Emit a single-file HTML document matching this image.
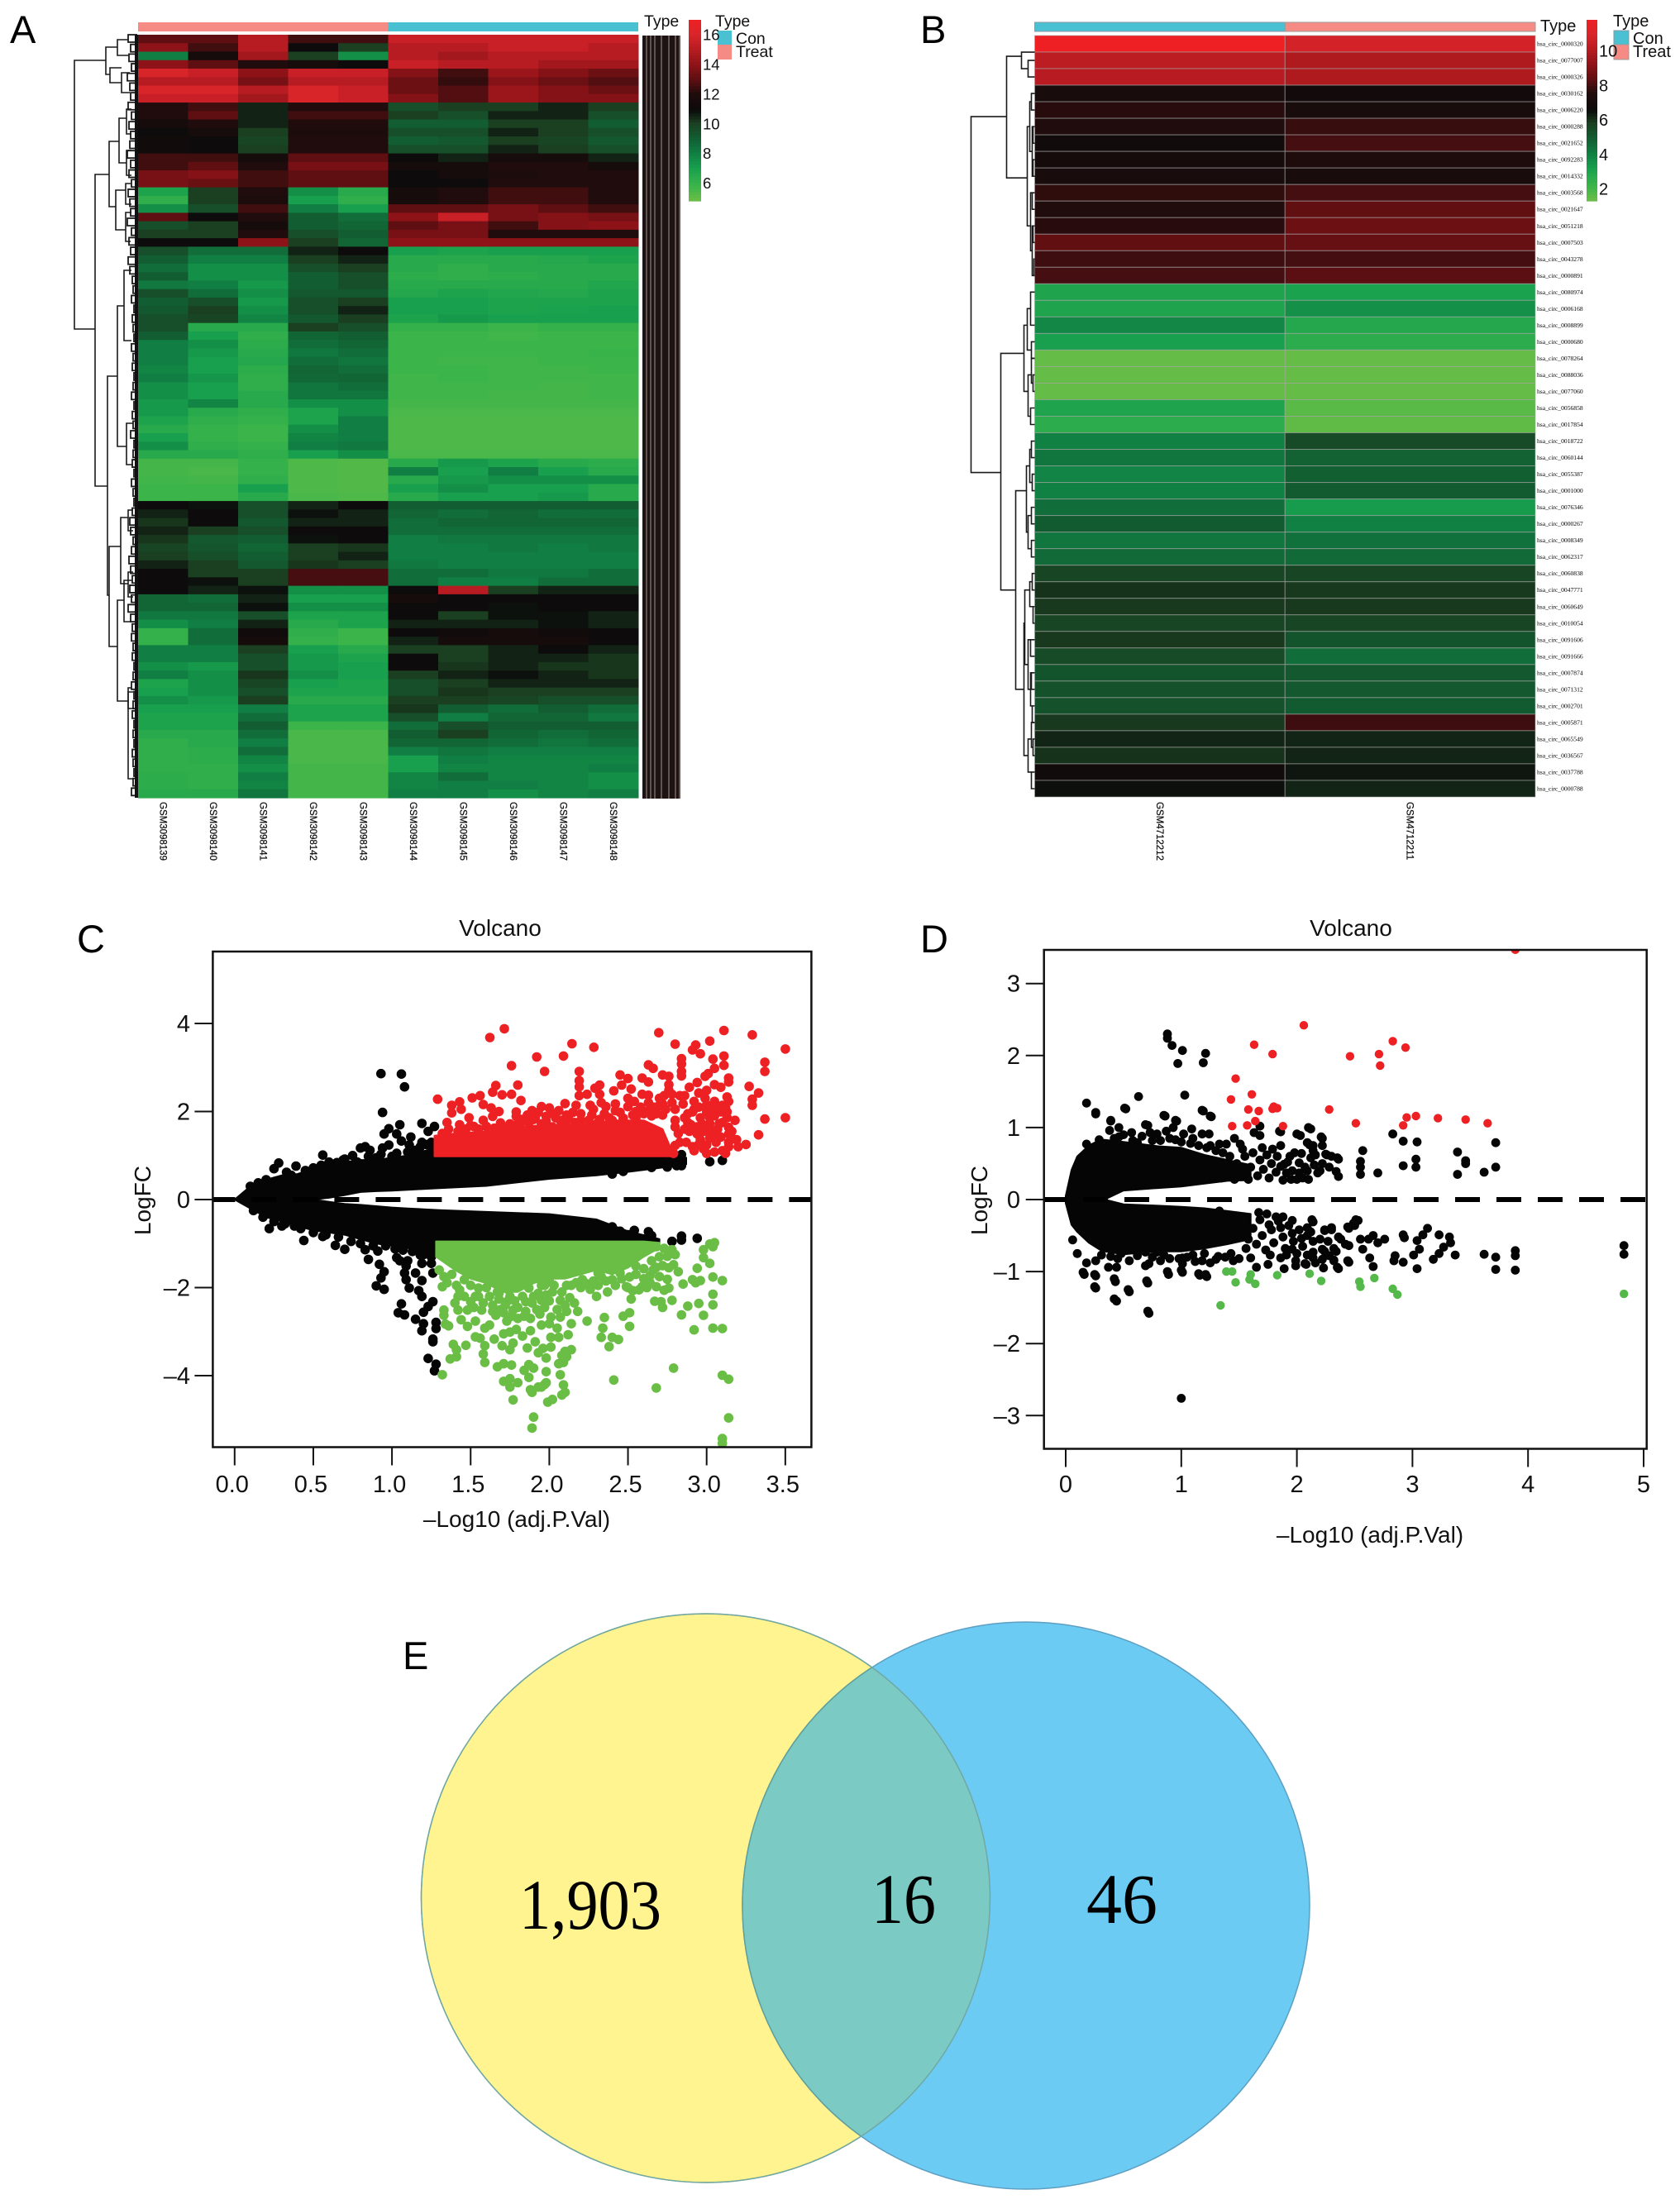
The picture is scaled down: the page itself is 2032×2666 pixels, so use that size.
<!DOCTYPE html>
<html lang="en">
<head>
<meta charset="utf-8">
<title>Differential circRNA expression figure</title>
<style>
html,body{margin:0;padding:0;background:#fff;}
svg{display:block;}
text{font-family:"Liberation Sans",Arial,sans-serif;fill:#111;}
.letter{font-size:47px;fill:#000;}
.small{font-size:19.5px;}
.axis{font-size:28px;}
.tick{font-size:29px;}
.serif{font-family:"Liberation Serif","Times New Roman",serif;fill:#000;}
</style>
</head>
<body>
<svg id="fig" xmlns="http://www.w3.org/2000/svg" width="2032" height="2666" viewBox="0 0 2032 2666">
<rect x="0" y="0" width="2032" height="2666" fill="#fff"/>
<defs>
<clipPath id="clipC"><rect x="257.4" y="1151" width="724" height="599.5"/></clipPath>
<clipPath id="clipD"><rect x="1262.7" y="1149" width="729" height="603.5"/></clipPath>
<clipPath id="clipLens"><ellipse cx="853.5" cy="2296" rx="344" ry="344"/></clipPath>
</defs>

<text class="letter" x="12" y="52">A</text>
<text class="letter" x="1113" y="52">B</text>
<text class="letter" x="93" y="1152">C</text>
<text class="letter" x="1113" y="1152">D</text>
<text class="letter" x="487" y="2019">E</text>

<g id="panelA">
<rect x="167" y="27" width="302.5" height="11" fill="#f68a84"/>
<rect x="469.5" y="27" width="302.5" height="11" fill="#4ac0d3"/>
<text class="small" x="779" y="32">Type</text>
<text class="small" x="865" y="32">Type</text>
<rect x="868" y="37" width="17" height="17" fill="#4ac0d3"/>
<rect x="868" y="54" width="17" height="18" fill="#f68a84"/>
<text class="small" x="890" y="53">Con</text>
<text class="small" x="890" y="69">Treat</text>
</g>

<g id="panelB">
<rect x="1251.5" y="27" width="303" height="11" fill="#4ac0d3" stroke="#8a9aa0" stroke-width="1"/>
<rect x="1554.5" y="27" width="302.5" height="11" fill="#f68a84" stroke="#a09a98" stroke-width="1"/>
<text x="1863" y="38" font-size="20">Type</text>
<text x="1951" y="32" font-size="20">Type</text>
<rect x="1952" y="37" width="18" height="17" fill="#4ac0d3" stroke="#8a9aa0"/>
<rect x="1952" y="54" width="18" height="18" fill="#f68a84" stroke="#a09a98"/>
<text x="1975" y="53" font-size="20">Con</text>
<text x="1975" y="69" font-size="20">Treat</text>
</g>

<g id="panelC">
<text class="axis" x="605" y="1132" text-anchor="middle">Volcano</text>
<text class="axis" x="625" y="1847" text-anchor="middle">–Log10 (adj.P.Val)</text>
<text class="axis" transform="translate(182,1452) rotate(-90)" text-anchor="middle">LogFC</text>
</g>

<g id="panelD">
<text class="axis" x="1634" y="1132" text-anchor="middle">Volcano</text>
<text class="axis" x="1657" y="1866" text-anchor="middle">–Log10 (adj.P.Val)</text>
<text class="axis" transform="translate(1194,1452) rotate(-90)" text-anchor="middle">LogFC</text>
</g>

<g id="panelE">
<ellipse cx="853.5" cy="2296" rx="344" ry="344" fill="#fff48f" stroke="#b9b27c" stroke-width="1.5"/>
<ellipse cx="1241" cy="2305" rx="343" ry="343" fill="#6ccbf3" stroke="#5c9fc2" stroke-width="1.5"/>
<ellipse cx="1241" cy="2305" rx="343" ry="343" fill="#7bcbc4" stroke="#5f9f9c" stroke-width="1.5" clip-path="url(#clipLens)"/>
<ellipse cx="853.5" cy="2296" rx="344" ry="344" fill="none" stroke="#6fa8a4" stroke-width="1.5"/>
<text class="serif" x="628" y="2333" font-size="86" textLength="172" lengthAdjust="spacingAndGlyphs">1,903</text>
<text class="serif" x="1054" y="2326" font-size="86" textLength="78" lengthAdjust="spacingAndGlyphs">16</text>
<text class="serif" x="1314" y="2326" font-size="86" textLength="86" lengthAdjust="spacingAndGlyphs">46</text>
</g>
</svg>

<script>
/* ---------- Panel A heatmap data ---------- */
const samplesA = ["GSM3098139","GSM3098140","GSM3098141","GSM3098142","GSM3098143","GSM3098144","GSM3098145","GSM3098146","GSM3098147","GSM3098148"];
const valuesA = [
[13,13,15,12.5,12.5,15.5,15.5,15.5,15.5,15.5],
[14,12.5,15,11,10,15,15,15.5,15.5,15],
[8,11.5,14.5,10,7.5,15,14.5,15,15,15],
[14,13,12,11.5,11,15.5,15,15,14.5,14.5],
[16,15.5,14,15.5,15.5,13.8,12.5,14.3,13.8,13.3],
[15,15,13.5,15,15,13.3,12.3,13.8,13.3,12.8],
[16,16,15,16,15.5,13.3,12.8,14.3,13.8,13.3],
[15.5,15.5,14.5,16,15.5,13.8,12.8,14.3,13.8,13.8],
[12,12.5,10.5,12,12,9.5,10,10,10.5,10],
[12,13,10.5,12.5,12.5,10,9.5,10.5,10.5,9.5],
[11.5,12,10.5,12,12,9,9,10,10,9],
[11,11.5,10,11.8,11.8,9.5,9.5,10.5,10,9.5],
[11.2,11,9.8,12,12,9,9.2,10,9.8,9.2],
[11.2,11,10,12,12,9.5,9.5,10.5,10,9.5],
[12.5,12.5,11.5,13,13,11,10.5,11.5,11.5,10.5],
[12.5,13,12,13.5,13.5,11.5,11.5,12,12,11.5],
[13.5,13.8,12.5,13,13,11,11.5,11.8,12,12],
[13.5,13.2,12.5,13,13,11,11,12,12,12],
[6.8,10,12,7.5,6.5,11.5,12,12.5,12.5,12],
[6.2,10,11.8,7,6.2,11.5,12,12.5,12.5,12],
[7.5,9.5,12.5,8,7,13,13,13.5,13,12.5],
[13,11,12,9,8.5,14,15.5,13.5,13.8,13.5],
[9.5,10,11.5,9,8.8,13,13.5,12.5,13.8,14],
[10,10,12,9.5,9,13.5,13.5,12,12,12],
[11,11,14,10,8.8,14,14,14,14,14],
[9.5,8.5,8.5,10.5,11,7,6.8,7,7,7],
[9,8,8,10,10.5,6.5,6.5,6.5,6.6,6.8],
[8.5,7.5,7.5,9.5,10,6.5,6.2,6.5,6.5,6.5],
[9,7.5,7.5,9,9.5,6.3,6.2,6.3,6.5,6.5],
[8.2,8,7.2,9,9.5,6.5,6.5,6.5,6.5,6.7],
[9.5,8.5,7.5,9.2,9.2,6.6,6.8,6.7,6.6,6.8],
[9,9.5,7.2,9.5,10,7,7,6.8,6.8,6.8],
[9.2,10,7.5,9.5,10.5,7,7,6.8,6.9,7],
[9.5,9.8,7.8,9.2,10,6.8,7.2,7,7,7],
[9.5,6.5,6.5,10,9.5,6,6,5.8,6,6],
[9,7,6.2,8.8,9,5.8,5.8,5.7,5.8,5.8],
[8,7.5,6.3,8.5,8.8,5.8,5.8,5.8,5.8,5.8],
[8,7.2,6.5,8.2,8.5,5.8,5.8,5.8,5.8,5.9],
[8,7,6.6,8.5,8.3,5.8,5.7,5.7,5.8,5.8],
[7.8,7,6.3,8.8,8.5,5.8,5.8,5.7,5.7,5.8],
[8,7.3,6.2,8.7,8.8,5.7,5.8,5.7,5.7,5.7],
[7.5,7,6.2,8.3,8.5,5.7,5.7,5.7,5.6,5.7],
[7.5,7,6.5,8.3,8.3,5.7,5.7,5.6,5.6,5.7],
[7.2,7.8,6.5,7.5,7.5,5.6,5.6,5.6,5.6,5.6],
[7.2,6.5,6.2,6.8,7.5,5.5,5.5,5.5,5.5,5.5],
[6.8,6.2,6,6.8,8,5.4,5.4,5.4,5.4,5.4],
[6.5,6,5.8,7.5,8,5.4,5.4,5.4,5.4,5.4],
[7,6,5.8,7.8,8,5.4,5.4,5.4,5.4,5.4],
[7.5,6.2,6,8,8.2,5.4,5.4,5.4,5.4,5.4],
[6.5,6.5,6.2,7,7.5,5.5,5.5,5.5,5.5,5.5],
[5.6,5.6,6,5.4,5.3,6.5,7.2,6.8,6.5,6.3],
[5.6,5.5,6,5.4,5.3,8,7,8,7,6.5],
[5.7,5.6,6.2,5.4,5.3,6.5,7.2,7.5,7.5,7.5],
[5.8,5.8,7,5.4,5.3,7,7.5,7,7,6.5],
[5.8,5.8,6.5,5.5,5.4,6.5,7,7,7.2,6.5],
[11,10.8,9.5,10.5,11,9,9,9,9,9],
[10.5,11,9.5,10.8,10.5,8.8,8.5,8.8,8.5,8.5],
[10.2,11,9.2,10.5,10.5,8.5,8.8,8.8,8.8,8.8],
[10.5,10,9.5,11,11,8.5,8.5,8.5,8.5,8.5],
[10.2,9.2,9,10.8,11,8,8.2,8.2,8.2,8.2],
[9.8,9.3,8.8,10,10.2,8,8,8.2,8,8.2],
[10,9.5,9,10,10.5,8,8,8,8,8],
[10.5,10,9.2,10.2,10,8.2,8,8,8,8],
[11,10,10,12.6,12.6,8.5,8.5,8.2,8.2,8.5],
[11,10.8,10,12.6,12.6,8.5,8,8,8.5,8.5],
[11,10.5,10.8,7.5,7.5,11,15,10,10.5,10.5],
[8.8,8.5,10.5,7,7,11.5,11,11,11,11],
[8.8,8.8,10.8,7.5,7.5,11,11,10.8,11,11],
[8.2,8.2,9.5,6.8,6.8,11,10,10.8,10.8,10.5],
[7.5,8,10.5,6.5,6.8,10.5,10.5,10.5,10.8,10.5],
[6,8.5,11.2,6.2,5.8,11,11.2,11.5,11.2,11],
[6,8.5,11.5,6,5.8,10.5,11.5,11.5,11.5,11],
[8,8,10,7,6.5,10,10,10.5,11,10.5],
[8,8,9.5,7.2,6.8,11,10,10.5,10.5,10.2],
[7.5,7.2,9.5,7.2,7,11,10.2,10.5,10.2,10.2],
[8,7.5,10.2,7.5,7,10,10.5,10.8,10.5,10.2],
[6.8,7.5,9.8,7,6.8,9.5,10,10.5,10.5,10.5],
[7,7.5,9.5,6.8,6.8,9.5,10.2,10,10,10],
[7.5,7.2,10,6.5,6.5,10,10,9.8,9.5,9.5],
[7,7,8,6.8,6.8,10.2,9,8.5,9,8.5],
[6.8,6.8,8.5,6.8,6.8,9.5,8,8.8,8.8,8.2],
[6.8,6.8,9,5.8,5.8,8.5,9.5,9,9,9],
[6.5,6.5,8.5,5.5,5.5,9,10,8.8,8.5,8.8],
[6.2,6.5,8,5.5,5.5,8.8,8.8,8.5,8.3,8.5],
[6.2,6.3,8.5,5.5,5.5,8,8.3,8,8,8],
[6.2,6.3,7.8,5.5,5.5,7,8,7.8,7.8,7.8],
[6.2,6.2,7.5,5.6,5.6,7,7.8,7.8,7.8,8],
[6.3,6.2,8,5.6,5.6,7.8,8.5,7.8,7.8,7.5],
[6.3,6.2,7.8,5.6,5.6,7.8,8,8,7.8,7.5],
[6.5,6.5,8.3,5.6,5.6,8,8,7.5,7.8,8]
];
const barTicksA = [16,14,12,10,8,6];
/* dendrogram A: [height, leafTop, leafBottom, childHeightTop, childHeightBottom] */
const dendroA = [
[77,31,356,39,52],[39,15,48,25,34],[25,6,25,12,12],[34,40,58,20,20],[20,46,70,10,10],
[52,169,546,35,37],[35,129,208,23,27],[23,101,155,14,14],[27,188,236,15,15],
[37,413,678,25,35],[25,328,498,17,14],[17,285,370,8,8],[35,619,740,21,25],
[21,584,664,12,12],[25,684,806,17,12],[12,790,900,8,6],[17,660,710,8,8],
[14,90,120,8,8],[14,140,170,8,8],[15,180,205,9,8],[15,215,250,8,9],[14,470,520,6,6],[12,575,600,6,6],[12,650,680,6,6],[12,795,815,6,6]
];
const teethA = [12,9,11,8,13,10,9,12,8,11,9,10,13,9,11,8,12,10,9,13,8,11,9,12,10,7,6,8,5,7,6,5,8,6,7,5,6,8,5,7,6,9,5,6,7,5,8,6,5,7,10,9,6,8,11,9,7,10,8,12,9,7,8,6,7,5,6,8,5,6,7,5,6,5,7,6,5,6,8];
const stripesA = [782,787,792,800,809,817,822];

/* ---------- Panel B heatmap data ---------- */
const samplesB = ["GSM4712212","GSM4712211"];
const rowLabelsB = ["hsa_circ_0000320","hsa_circ_0077007","hsa_circ_0000326","hsa_circ_0030162","hsa_circ_0006220","hsa_circ_0000288","hsa_circ_0021652","hsa_circ_0092283","hsa_circ_0014332","hsa_circ_0003568","hsa_circ_0021647","hsa_circ_0051218","hsa_circ_0007503","hsa_circ_0043278","hsa_circ_0000891","hsa_circ_0080974","hsa_circ_0006168","hsa_circ_0008899","hsa_circ_0000680","hsa_circ_0078264","hsa_circ_0088036","hsa_circ_0077060","hsa_circ_0056858","hsa_circ_0017854","hsa_circ_0018722","hsa_circ_0060144","hsa_circ_0055387","hsa_circ_0001000","hsa_circ_0076346","hsa_circ_0000267","hsa_circ_0008349","hsa_circ_0062317","hsa_circ_0060838","hsa_circ_0047771","hsa_circ_0060649","hsa_circ_0010054","hsa_circ_0091606","hsa_circ_0091666","hsa_circ_0007874","hsa_circ_0071312","hsa_circ_0002701","hsa_circ_0005871","hsa_circ_0065549","hsa_circ_0036567","hsa_circ_0037788","hsa_circ_0000788"];
const valuesBcon = [11.8,10.2,10.1,7.2,7.6,7.5,6.8,7,7.2,7.7,7.5,7.6,8.4,7.9,8,3,3,3.8,3.2,1.4,1.4,1.4,3,2.6,4,4.3,3.9,4,4.5,5,4.3,4.6,5.6,6,5.9,5.6,5.9,5.5,5.2,5.3,5.3,5.9,6.2,6,6.8,6.5];
const valuesBtreat = [10.8,9.9,9.9,6.9,7.2,7.8,8,7.4,7.2,8,8.4,8.6,8.5,8,8.3,3.1,3.6,2.8,2.6,1.4,1.4,1.4,1.6,1.5,5.5,4.8,4.9,5,3.3,4,4.4,4.6,5.6,5.9,5.9,5.6,5.2,4.5,5.1,5.1,5,7.9,6.2,6.2,6.4,6.2];
const barTicksB = [10,8,6,4,2];
const dendroB = [
[77,4.4,25.9,34,41],[34,.75,8.1,16,9],[16,.5,1.5,0,8],[8,1,2,0,0],[9,5,11,6,5],[6,3.5,6.5,4,3],[4,3,4,0,0],[3,5,8,2,2],[2,5,6,0,0],[2,7,8,0,0],
[5,9,12.5,3,3],[3,9,10,0,0],[3,11,14,2,1],[2,11,12,0,0],[1,13,14,0,0],
[41,18.7,33,13,23],[13,17,21,9,8],[9,16,18.5,5,4],[5,15,17,0,0],[4,18,19,0,0],[8,20,22.5,4,5],[4,19,20.5,0,2],[2,20,21,0,0],[5,22,23,0,0],
[23,27,39,10,13],[10,25.5,29.5,6,8],[6,24.5,26.5,4,3],[4,24,25,0,0],[3,26,27,0,0],[8,28.5,30.5,4,4],[4,28,29,0,0],[4,30,31,0,0],
[13,35,43,12,8],[12,33,37.5,6,8],[6,32.5,34,3,2],[3,32,33,0,0],[2,34,35,0,0],[8,36,39,5,5],[5,36,37,0,0],[5,38,40,4,3],[4,38,39,0,0],[3,40,41,0,0],[8,42,44,4,4],[4,41,42.5,0,2],[2,42,43,0,0],[4,44,45,0,0]
];

/* ---------- Panel C volcano data ---------- */
const xTicksC = ["0.0","0.5","1.0","1.5","2.0","2.5","3.0","3.5"];
const yTicksC = [4,2,0,-2,-4];
const cUpperX = [0,.1,.2,.3,.4,.5,.6,.7,.8,.9,1,1.1,1.2,1.3,1.6,2,2.3,2.5,2.7,2.87];
const cUpperTop = [0,.3,.45,.55,.58,.7,.8,.85,.9,.9,.95,1,1.1,1.2,1,1,1,1,1,.95];
const cUpperBottom = [0,0,0,0,0,0,.04,.1,.17,.19,.2,.22,.24,.26,.31,.47,.55,.63,.72,.8];
const cLowerX = [0,.1,.2,.3,.4,.5,.6,.7,.8,.9,1,1.1,1.2,1.3,1.6,2,2.3,2.5,2.7];
const cLowerTop = [0,0,0,0,0,0,-.05,-.1,-.12,-.15,-.18,-.2,-.22,-.24,-.28,-.33,-.45,-.72,-.9];
const cLowerBottom = [0,-.2,-.4,-.5,-.6,-.7,-.75,-.8,-.9,-1,-1.05,-1.1,-1.2,-1.3,-1,-1,-1,-1,-1];
const cRedCoreX = [1.27,1.4,1.6,1.8,2,2.2,2.4,2.6,2.72,2.78];
const cRedCoreTop = [1.45,1.5,1.55,1.65,1.7,1.7,1.8,1.8,1.6,1.1];
const cRedCoreBottom = [.98,.98,.98,.98,.98,.98,.98,.98,.98,.98];
const cGreenCoreX = [1.28,1.4,1.5,1.6,1.7,1.8,1.9,2,2.1,2.2,2.3,2.4,2.5,2.6,2.7];
const cGreenCoreTop = [-.95,-.95,-.95,-.95,-.95,-.95,-.95,-.95,-.95,-.95,-.95,-.95,-.95,-.95,-.98];
const cGreenCoreBottom = [-1.3,-1.6,-1.8,-1.9,-2.1,-2.1,-1.9,-1.8,-1.8,-1.7,-1.6,-1.7,-1.55,-1.3,-1.1];
const cBlackPoints = [[.93,2.86],[1.06,2.85],[1.08,2.56],[.94,1.98],[1.05,1.7],[.98,1.61],[.95,1.49],[1.19,1.73],[1.23,1.55],[1.27,1.66],[1.03,1.49],[1.06,1.33],[1.12,1.42],[1.11,1.24],[.83,1.2],[.94,1.17],[.98,1.24],[1.19,1.3],[1.25,1.3],[2.84,1.02],[2.84,.77],[2.81,.77],[3.02,.86],[3.1,.89],[2.65,.73],[2.75,.74],[2.4,.58],[2.47,.64],[.28,.83],[.39,.76],[.56,1.01],[.25,.7],[.65,.84],[.69,.9],[.8,1.17],[.86,1.12],[.93,1.03],
[.22,-.66],[.3,-.6],[.44,-.93],[.38,-.6],[.56,-.84],[.64,-1.04],[.7,-1.13],[.85,-1.36],[.91,-1.17],[.92,-1.47],[.95,-1.64],[.93,-1.78],[.9,-1.96],[.95,-2.04],[.83,-1.14],[1.03,-1.32],[1.1,-1.39],[1.09,-1.51],[1.05,-1.39],[1.08,-1.67],[1.15,-1.67],[1.09,-1.82],[1.11,-2.01],[1.19,-1.84],[1.17,-2.07],[1.19,-2.2],[1.26,-1.67],[1.19,-1.45],[1.18,-1.26],[1.25,-1.45],[1.06,-2.37],[1.04,-2.57],[1.08,-2.62],[1.15,-2.72],[1.26,-2.32],[1.23,-2.43],[1.2,-2.56],[1.2,-2.82],[1.19,-2.98],[1.28,-2.79],[1.28,-2.93],[1.26,-3.17],[1.26,-3.23],[1.23,-3.61],[1.28,-3.74],[1.27,-3.89],[2.94,-.88],[2.84,-.83],[2.84,-.92],[2.78,-.95],[2.54,-.7],[2.63,-.73],[2.65,-.82],
[.1,.3],[.15,.38],[.2,.45],[.33,.62],[.36,.55],[.45,.66],[.5,.72],[.55,.78],[.6,.85],[.63,.75],[.7,.92],[.75,1],[.78,.85],[.85,.98],[.9,.95],[1,.98],[1.03,1.05],[1.1,1.08],[1.15,1.12],[1.18,1.2],[1.22,1.25],[1.26,1.18],[1.3,1.28],
[.12,-.25],[.18,-.4],[.25,-.5],[.32,-.55],[.42,-.66],[.5,-.75],[.58,-.8],[.66,-.85],[.74,-.95],[.8,-1],[.88,-1.05],[.96,-1.05],[1.02,-1.12],[1.07,-1.15],[1.13,-1.18],[1.2,-1.25],[1.25,-1.3],[2.4,-.62],[2.45,-.72],[2.5,-.8],[2.55,-.88],[2.6,-.9]];
const cRedPoints = [[1.714,3.88],[1.622,3.68],[2.144,3.54],[2.283,3.46],[2.696,3.79],[3.11,3.84],[3.29,3.74],[3.5,3.42],[2.8,3.53],[2.93,3.51],[2.91,3.4],[2.96,3.31],[3.02,3.6],[1.92,3.24],[2.09,3.26],[1.76,3.04],[1.97,2.91],[2.19,2.91],[2.63,3.06],[2.66,2.98],[2.84,3.2],[2.84,3.08],[2.84,2.91],[2.84,2.81],[3.04,3.19],[3.11,3.26],[3.11,3.05],[3.05,2.98],[3.01,2.86],[2.99,2.8],[3.37,3.12],[3.37,2.91],[3.14,2.76],[3.14,2.67],[3.27,2.57],[3.33,2.42],[3.29,2.28],[3.29,2.14],[3.37,1.83],[3.5,1.86],[3.33,1.47],[3.25,1.25],[1.29,2.28],[1.38,2.14],[1.38,1.97],[1.43,2.22],[1.44,2.05],[1.51,2.31],[1.56,2.36],[1.58,2.16],[1.66,2.59],[1.64,2.44],[1.7,2.38],[1.76,2.39],[1.8,2.6],[1.82,2.25],[1.63,2.08],[1.68,2],[1.64,1.89],[1.49,1.86],[1.35,1.75],[1.43,1.7],[1.52,1.66],[1.58,1.8],[1.69,1.74],[1.79,1.99],[1.79,1.89],[1.86,1.92],[1.89,2.02],[1.95,2.11],[2,2.08],[2.06,2.02],[1.91,1.86],[1.98,1.89],[2.04,1.86],[2.1,2.18],[2.17,2.14],[2.15,1.98],[2.11,1.92],[2.19,2.7],[2.19,2.56],[2.19,2.36],[2.24,2.39],[2.29,2.53],[2.32,2.6],[2.32,2.39],[2.41,2.47],[2.45,2.83],[2.5,2.75],[2.46,2.6],[2.52,2.51],[2.59,2.76],[2.63,2.67],[2.59,2.39],[2.63,2.37],[2.72,2.83],[2.76,2.8],[2.76,2.61],[2.76,2.48],[2.73,2.36],[2.78,2.39],[2.83,2.36],[2.86,2.36],[2.89,2.55],[2.94,2.66],[2.95,2.42],[3,2.48],[3.05,2.61],[3.09,2.55],[3.13,2.33],[3.14,2.23],[2.92,2.23],[2.99,2.3],[3.05,2.23],[3.1,2.14],[3.13,1.99],[3.13,1.86],[3.07,2.05],[3,1.99],[2.96,1.86],[2.91,1.99],[3.02,1.86],[3.09,1.99],[3.14,1.64],[3.14,1.49],[2.99,1.64],[2.94,1.49],[2.89,1.55],[3.03,1.55],[3.09,1.42],[2.96,1.36],[2.91,1.2],[3,1.24],[3.14,1.2],[3.19,1.36],[3.1,1.11],[3.05,1.08],[2.92,1.11],[2.83,1.3],[2.79,1.05],[2.8,1.23],[3.16,1.39],[3.14,1.3],[2.72,2.17],[2.8,2.05],[2.85,2.17],[2.72,1.92],[2.8,1.8],[2.86,1.86],[2.69,2.11],[2.63,2.2],[2.54,2.23],[2.5,2.11],[2.53,1.92],[2.42,2.17],[2.36,2.11],[2.33,2.2],[2.26,2.14],[2.27,1.92],[2.38,1.86],[1.75,1.72],[1.82,1.75],[1.95,1.72],[2.02,1.65],[2.1,1.75],[2.2,1.8],[2.3,1.72],[2.45,1.98],[2.55,2],[2.6,1.95],[2.65,1.9],[2.95,2.1],[3.03,2.05],[3.08,1.72],[2.97,1.72],[2.88,1.75],[3.06,1.3],[2.98,1.15],[2.87,1.3],[3.02,1.72],
[1.32,1.5],[1.36,1.6],[1.42,1.55],[1.47,1.6],[1.5,1.68],[1.55,1.6],[1.6,1.66],[1.65,1.62],[1.7,1.66],[1.78,1.68],[1.82,1.82],[1.87,1.75],[1.9,1.82],[1.93,1.98],[1.98,1.78],[2.03,1.95],[2.07,1.8],[2.12,1.85],[2.16,1.75],[2.2,1.95],[2.25,1.8],[2.28,2.05],[2.32,1.82],[2.35,1.95],[2.4,1.8],[2.42,2.02],[2.47,1.85],[2.5,2.3],[2.55,1.85],[2.58,2.1],[2.62,2],[2.66,2.1],[2.68,1.95],[2.7,2.3],[2.74,2.05],[2.78,2.2],[2.8,1.65],[2.82,1.5],[2.86,1.6],[2.88,1.95],[2.9,1.7],[2.92,2.05],[2.94,1.65],[2.98,1.55],[3,2.15],[3.02,1.4],[3.05,1.9],[3.07,1.6],[3.1,1.75],[3.12,2.1],[3.16,1.55],[3.18,1.8],[2.95,1.25],[3,1.05],[3.06,1.45],[3.12,1.05],[3.2,1.2]];
const cGreenPoints = [[1.89,-5.19],[1.9,-4.94],[3.14,-4.96],[3.1,-5.43],[3.1,-5.54],[3.1,-3.99],[3.14,-4.08],[2.79,-3.83],[2.68,-4.28],[2.41,-4.1],[1.32,-3.98],[1.37,-3.62],[1.41,-3.57],[1.41,-3.41],[1.39,-3.29],[1.47,-3.31],[1.59,-3.7],[1.58,-3.51],[1.59,-3.32],[1.53,-3.12],[1.56,-3.15],[1.67,-3.8],[1.71,-3.73],[1.76,-3.76],[1.71,-4.13],[1.75,-4.07],[1.75,-4.26],[1.8,-4.16],[1.77,-4.55],[1.88,-4.32],[1.89,-4.38],[1.93,-4.26],[1.97,-4.2],[1.98,-4.16],[1.95,-4.26],[1.99,-4.6],[2.02,-4.54],[2.08,-4.44],[2.1,-4.38],[2.09,-4.21],[2.07,-3.98],[1.98,-3.91],[1.87,-4.04],[1.84,-3.88],[1.87,-3.75],[1.9,-3.83],[2.06,-3.73],[2.09,-3.7],[2.11,-3.57],[2.14,-3.41],[2.1,-3.45],[2.08,-3.54],[1.98,-3.6],[1.93,-3.48],[1.96,-3.38],[2.01,-3.35],[1.91,-3.23],[1.86,-3.37],[1.75,-3.41],[1.7,-3.32],[1.65,-3.17],[1.77,-3.26],[2.12,-3.07],[2.01,-3.13],[2.06,-3.13],[2.05,-2.92],[1.95,-2.85],[2,-2.82],[1.79,-2.95],[1.88,-2.98],[1.83,-3.1],[1.75,-3.01],[1.71,-3.05],[1.62,-2.85],[1.59,-2.92],[1.48,-2.88],[1.44,-2.73],[1.33,-2.51],[1.33,-2.63],[1.34,-2.83],[1.36,-2.87],[1.53,-2.76],[1.66,-2.63],[1.73,-2.76],[1.8,-2.7],[1.88,-2.7],[1.94,-2.6],[2.01,-2.67],[2.07,-2.67],[2.11,-2.54],[2.18,-2.54],[2.14,-2.82],[2.24,-2.76],[1.42,-2.51],[1.48,-2.51],[1.57,-2.51],[1.64,-2.54],[1.71,-2.57],[1.77,-2.51],[1.85,-2.54],[1.4,-2.35],[1.32,-1.98],[1.35,-1.89],[1.42,-2.2],[1.53,-2.2],[1.5,-2.32],[1.55,-2.01],[1.46,-1.82],[1.41,-1.95],[1.68,-2.13],[1.68,-2.26],[1.73,-2.32],[1.75,-2.2],[1.71,-2.01],[1.66,-1.89],[1.85,-2.32],[1.89,-2.35],[1.95,-2.29],[1.93,-2.13],[1.87,-2.01],[1.98,-2.17],[2.02,-2.1],[1.97,-1.95],[1.89,-1.76],[2.07,-2.29],[2.13,-2.23],[2.16,-2.35],[2.11,-1.95],[2.17,-1.89],[2.21,-1.82],[2.26,-2.04],[2.31,-1.95],[2.3,-2.2],[2.37,-2.1],[2.35,-2.68],[2.34,-2.92],[2.33,-3.13],[2.4,-3.13],[2.44,-3.18],[2.38,-3.34],[2.47,-2.65],[2.51,-2.57],[2.51,-2.88],[2.52,-2.26],[2.49,-1.98],[2.53,-2.07],[2.59,-1.98],[2.64,-1.89],[2.68,-1.98],[2.73,-2.06],[2.76,-2.01],[2.75,-1.81],[2.67,-2.31],[2.71,-2.32],[2.78,-2.29],[2.72,-2.45],[2.84,-2.62],[2.88,-2.42],[2.95,-2.36],[2.98,-2.63],[2.92,-2.96],[3.04,-2.39],[3.04,-2.15],[3.04,-2.92],[3.1,-2.93],[2.85,-1.92],[2.91,-1.82],[2.93,-1.89],[2.96,-1.84],[3.04,-1.76],[3.1,-1.84],[2.94,-1.56],[3.02,-1.45],[2.98,-1.32],[2.98,-1.14],[3.04,-1.07],[3.02,-1.01],[3.05,-.98],[2.79,-1.48],[2.82,-1.64],[2.78,-1.14],[2.75,-1.29],[2.73,-1.11],[2.68,-1.07],[2.65,-1.39],[2.68,-1.54],[2.6,-1.57],[2.55,-1.51],[2.64,-1.73],[2.51,-1.76],[2.26,-1.45],[2.31,-1.67],[2.4,-1.82],[2.45,-1.67],
[1.3,-1.6],[1.33,-1.75],[1.38,-1.7],[1.43,-2.05],[1.46,-2.2],[1.5,-1.95],[1.52,-2.45],[1.55,-2.2],[1.58,-2.35],[1.6,-2],[1.62,-2.2],[1.64,-2.4],[1.67,-2.1],[1.69,-2.5],[1.72,-2.4],[1.74,-2.05],[1.76,-2.65],[1.78,-2.3],[1.8,-2.45],[1.83,-2.2],[1.84,-2.65],[1.86,-1.85],[1.9,-2.2],[1.92,-2.5],[1.95,-1.95],[1.97,-2.45],[2,-1.85],[2,-2.3],[2.03,-1.95],[2.05,-2.5],[2.08,-2.1],[2.1,-2.4],[2.14,-1.95],[2.2,-2],[2.23,-1.9],[2.28,-1.85],[2.33,-1.75],[2.36,-1.85],[2.42,-1.95],[2.46,-1.8],[2.5,-2],[2.55,-1.7],[2.57,-2.05],[2.6,-1.8],[2.62,-2],[2.66,-1.6],[2.7,-1.75],[2.72,-1.5],[2.76,-1.55],[2.7,-1.3],[2.8,-1.25]];

/* ---------- Panel D volcano data ---------- */
const xTicksD = ["0","1","2","3","4","5"];
const yTicksD = [3,2,1,0,-1,-2,-3];
const dCoreX = [0,.05,.1,.2,.3,.336,.5,.8,1,1.2,1.4,1.6];
const dUpperTop = [.05,.41,.6,.75,.83,.83,.8,.74,.72,.62,.55,.48];
const dUpperBottom = [0,0,0,0,0,0,.125,.16,.18,.22,.26,.27];
const dLowerTop = [0,0,0,0,0,0,-.065,-.085,-.1,-.12,-.16,-.2];
const dLowerBottom = [-.05,-.35,-.45,-.6,-.7,-.72,-.76,-.72,-.72,-.68,-.62,-.55];
const dBlackPoints = [[.88,2.3],[.88,2.24],[.92,2.14],[1.01,2.07],[.97,1.89],[1.21,2.03],[1.19,1.9],[.18,1.34],[.26,1.19],[.52,1.26],[.63,1.43],[1.03,1.45],[1.19,1.23],[1.26,1.15],[.86,1.16],[.39,1.09],[.96,1.09],[.71,1.03],[1,-2.76],[.72,-1.58],[.44,-1.41],[.55,-1.28],[.26,-1.23],[.71,-1.16],[.43,-1.14],[.26,-1.06],[.16,-1.04],[.89,-1.04],[1.01,-1.01],[1.16,-1.05],[1.22,-1.07],[.06,-.56],[.1,-.75],
[1.86,.94],[2.03,.89],[2.12,.98],[2.22,.85],[2.11,.76],[2.22,.75],[2.36,.56],[2.26,.62],[2.34,.39],[2.36,.32],[2.57,.68],[2.55,.53],[2.55,.45],[2.55,.35],[2.7,.37],[2.83,.91],[2.92,.81],[3.04,.8],[3.03,.56],[3.03,.45],[2.92,.47],[3.39,.66],[3.39,.35],[3.46,.54],[3.46,.5],[3.62,.38],[3.72,.79],[3.72,.45],
[4.83,-.64],[4.83,-.76],[3.89,-.71],[3.89,-.78],[3.89,-.98],[3.72,-.97],[3.72,-.8],[3.62,-.76],[3.37,-.77],[3.32,-.52],[3.33,-.6],[3.27,-.66],[3.23,-.75],[3.18,-.83],[3.23,-.49],[3.13,-.4],[3.09,-.49],[3.04,-.57],[3.06,-.69],[3.01,-.77],[3.04,-.96],[2.92,-.49],[2.93,-.53],[2.92,-.87],[2.84,-.85],[2.85,-.78],[2.76,-.55],[2.7,-.6],[2.66,-.5],[2.62,-.55],[2.66,-.93],[2.63,-.81],[2.57,-.69],[2.55,-.55],[2.53,-.29],[2.5,-.36],[2.45,-.4],[2.45,-.64],[2.45,-.87],[2.36,-.96],[2.38,-.55],[2.3,-.42],[2.24,-.43],[2.34,-.72],[2.24,-.72],[2.32,-.84],
[1.68,1.02],[1.63,.93],[1.68,.89],[1.85,.95],[2,.91],[2.1,1],[2.21,.87],[2.09,.79],[2.14,.75],[2.14,.68],[2.25,.63],[2.35,.58],[2.22,.5],[2.18,.37],[2.09,.4],[2.12,.58],[2.04,.64],[2.02,.51],[2,.28],[1.95,.28],[2.02,.37],[1.94,.6],[1.89,.49],[1.91,.37],[1.86,.75],[1.79,.7],[1.7,.72],[1.51,.77],[1.53,.7],[1.46,.85],[1.39,.77],[1.33,.77],[1.25,.75],[1.24,.91],[1.18,.91],[1.1,.85],[1.09,.98],[1.25,1.16],[1.18,1.24],[.95,1.1],[.93,1],[.85,1.17],[.73,.93],[.69,1.04],[.57,.93],[.46,1],[.39,1.1],[.38,.96],[.26,1.21],[.51,1.27],[.18,.77],[.29,.83],[.46,.87],[.62,.79],[.79,.91],[.87,.95],[1.02,.91],[.95,.83],
[1.33,-.16],[1.67,-.18],[1.74,-.2],[1.82,-.24],[1.88,-.24],[1.96,-.29],[2.13,-.28],[2.14,-.31],[2.09,-.39],[2.24,-.42],[2.3,-.39],[2.51,-.28],[2.49,-.33],[2.44,-.38],[1.76,-.35],[1.86,-.39],[1.96,-.47],[2.04,-.54],[2.09,-.5],[2.14,-.58],[1.96,-.69],[1.91,-.77],[1.99,-.85],[2.09,-.77],[2.14,-.73],[2.22,-.69],[2.32,-.68],[2.36,-.52],[2.42,-.62],[2.22,-.83],[2.32,-.85],[2.23,-.95],[2.35,-.94],[2.44,-.85],[1.77,-.77],[1.86,-.81],[1.89,-.96],[1.75,-.9],[1.65,-.94],[1.6,-.81],[1.56,-.68],[1.99,-.92],[2.07,-.89],[2.14,-.81],[1.32,-.79],[1.43,-.75],[1.2,-.75],[1.1,-.77],[1.01,-.81],[1.01,-.89],[1,-.98],[.85,-.77],[.79,-.73],[.69,-.73],[.72,-.89],[.69,-.92],[.48,-.75],[.39,-.79],[.31,-.77],[.26,-.85],[.18,-.88],[.25,-1.04],[.15,-1.01],[.37,-.94],[.44,-.94],[.42,-1.1],[.25,-1.21],[.54,-1.25],[.7,-1.13],[.88,-1],[1.15,-1.03],[1.21,-1.04],[.42,-1.38],[.71,-1.55],
[1.35,.3],[1.4,.45],[1.42,.6],[1.46,.28],[1.48,.5],[1.52,.35],[1.55,.6],[1.58,.28],[1.6,.45],[1.62,.65],[1.66,.33],[1.68,.55],[1.71,.42],[1.74,.62],[1.76,.3],[1.78,.5],[1.82,.38],[1.83,.6],[1.86,.46],[1.88,.27],[1.92,.52],[1.96,.4],[1.98,.65],[2.05,.3],[2.07,.45],[2.1,.28],[2.15,.48],[2.16,.62],[2.2,.4],[2.28,.45],[2.3,.6],
[1.45,-.3],[1.5,-.45],[1.55,-.3],[1.58,-.55],[1.62,-.4],[1.65,-.62],[1.68,-.28],[1.7,-.5],[1.73,-.7],[1.78,-.42],[1.8,-.6],[1.84,-.3],[1.88,-.52],[1.9,-.68],[1.93,-.36],[1.97,-.58],[2,-.75],[2.02,-.42],[2.05,-.65],[2.08,-.9],[2.12,-.45],[2.16,-.88],[2.2,-.55],[2.27,-.58],[2.28,-.78],
[.45,-.82],[.55,-.85],[.62,-.78],[.75,-.8],[.82,-.85],[.9,-.82],[.98,-.82],[1.05,-.8],[1.12,-.86],[1.18,-.85],[1.25,-.88],[1.3,-.83],[1.38,-.8],[1.45,-.85],[1.5,-.82],
[.42,.85],[.5,.9],[.58,.82],[.66,.88],[.75,.82],[.82,.82],[.9,.85],[1,.8],[1.08,.78],[1.15,.75],[1.22,.72],[1.3,.68],[1.36,.65]];
const dRedPoints = [[3.89,3.47],[2.06,2.42],[1.63,2.15],[1.79,2.02],[1.47,1.68],[2.46,1.99],[2.71,2.02],[2.72,1.86],[2.83,2.2],[2.94,2.11],[1.43,1.39],[1.61,1.46],[1.58,1.25],[1.67,1.23],[1.79,1.26],[1.8,1.29],[1.83,1.27],[2.28,1.25],[1.44,1.02],[1.57,1.03],[1.64,1.09],[1.88,1.02],[2.51,1.06],[2.92,1.03],[2.95,1.14],[3.03,1.16],[3.22,1.13],[3.46,1.11],[3.65,1.06]];
const dGreenPoints = [[1.34,-1.47],[1.39,-1],[1.44,-1],[1.47,-1.15],[1.59,-1.11],[1.6,-1.04],[1.64,-1.17],[1.83,-1.05],[2.11,-1.03],[2.21,-1.13],[2.54,-1.14],[2.55,-1.21],[2.67,-1.09],[2.83,-1.24],[2.87,-1.32],[4.83,-1.31]];

/* ---------- helpers ---------- */
const NS = 'http://www.w3.org/2000/svg';
function make(tag, parent, props){
  const e = document.createElementNS(NS, tag);
  for (const k in props) e.setAttribute(k, props[k]);
  parent.appendChild(e);
  return e;
}
const rampStops = [[0,[106,189,69]],[.08,[60,181,74]],[.18,[24,160,78]],[.26,[17,127,67]],[.35,[18,92,49]],[.43,[26,63,32]],[.5,[11,11,11]],[.59,[32,12,12]],[.67,[94,15,18]],[.75,[140,19,23]],[.84,[185,28,34]],[.92,[217,37,42]],[1,[238,32,36]]];
function ramp(t){
  t = Math.max(0, Math.min(1, t));
  for (let i = 1; i < rampStops.length; i++){
    if (t <= rampStops[i][0]){
      const a = rampStops[i-1], b = rampStops[i], f = (t-a[0])/(b[0]-a[0]);
      return 'rgb(' + a[1].map((c,j)=>Math.round(c+(b[1][j]-c)*f)).join(',') + ')';
    }
  }
  return 'rgb(238,32,36)';
}
const panelA = document.getElementById('panelA');
const panelB = document.getElementById('panelB');
const panelC = document.getElementById('panelC');
const panelD = document.getElementById('panelD');

function colorBar(parent, name, x0, w, minV, maxV, ticks, fontSize, labelX){
  const yTop = 24, yBot = 243, n = 60;
  const barY = v => yBot - (v-minV)/(maxV-minV)*(yBot-yTop);
  for (let i = 0; i < n; i++){
    const r = make('rect', parent, {x:x0, y:(yTop+(yBot-yTop)*i/n).toFixed(1), width:w, height:((yBot-yTop)/n+.6).toFixed(1), fill:ramp(1-(i+.5)/n)});
    
    
  }
  ticks.forEach(v => {
    const t = make('text', parent, {x:labelX, y:(barY(v)+fontSize*.36).toFixed(1), 'font-size':fontSize});
    t.textContent = v;
    
    
  });
}
function bracket(parent, name, b, xf, yf, sw){
  const d = 'M' + xf(b[3]) + ' ' + yf(b[1]) + 'H' + xf(b[0]) + 'V' + yf(b[2]) + 'H' + xf(b[4]);
  const p = make('path', parent, {d:d, fill:'none', stroke:'#1a1a1a', 'stroke-width':sw});
  
  
}

/* ---------- Panel A ---------- */
(function(){
  const x0 = 167, cw = 60.5, y0 = 42, rh = 923/valuesA.length;
  const cellT = v => (v-4.8)/12.2;
  valuesA.forEach((row, i) => row.forEach((v, j) => {
    const c = make('rect', panelA, {x:x0+j*cw, y:(y0+i*rh).toFixed(2), width:cw+.5, height:(rh+.6).toFixed(2), fill:ramp(cellT(v))});
    
    
  }));
  samplesA.forEach((s, j) => {
    const cx = x0+(j+.5)*cw-4;
    const t = make('text', panelA, {transform:'translate('+cx+',970) rotate(90)', 'font-size':11.5, stroke:'#111', 'stroke-width':.25});
    t.textContent = s;
    
    
  });
  const strip = make('rect', panelA, {x:777, y:43, width:46, height:923, fill:'#1c1312'});
  
  
  stripesA.forEach(x => {
    const l = make('line', panelA, {x1:x, x2:x, y1:43, y2:966, stroke:'#8f807a', 'stroke-width':1.2});
    
    
  });
  colorBar(panelA, 'colorbar-a', 833, 15, 4.8, 17, barTicksA, 18.5, 850);
  const dx = h => 167-h, dy = r => y0+r;
  dendroA.forEach(b => bracket(panelA, 'dendrogram-a-branch', b, dx, dy, 1.6));
  teethA.forEach((h, i) => {
    const r = i*923/teethA.length;
    bracket(panelA, 'dendrogram-a-leaf', [h, r, r+9, 1, 1], dx, dy, 1.8);
  });
  const edge = make('rect', panelA, {x:163, y:42, width:4, height:923, fill:'#111'});
  
  
})();

/* ---------- Panel B ---------- */
(function(){
  const x0 = 1251.5, cw = 302.75, y0 = 43, rh = 921/rowLabelsB.length;
  const cellT = v => (v-1.3)/10.5;
  rowLabelsB.forEach((name, i) => {
    [valuesBcon[i], valuesBtreat[i]].forEach((v, j) => {
      const c = make('rect', panelB, {x:x0+j*cw, y:(y0+i*rh).toFixed(2), width:cw, height:rh.toFixed(2), fill:ramp(cellT(v)), stroke:'rgba(165,165,165,.6)', 'stroke-width':1});
      
      
    });
    const t = make('text', panelB, {x:1859, y:(y0+(i+.5)*rh+2.5).toFixed(1), 'font-size':7.6, class:'serif'});
    t.textContent = name;
    
    
  });
  samplesB.forEach((s, j) => {
    const cx = x0+(j+.5)*cw-4;
    const t = make('text', panelB, {transform:'translate('+cx+',970) rotate(90)', 'font-size':11.5, stroke:'#111', 'stroke-width':.25});
    t.textContent = s;
    
    
  });
  colorBar(panelB, 'colorbar-b', 1919, 13, 1.3, 11.8, barTicksB, 20, 1934);
  const dx = h => 1251.5-h, dy = p => y0+(p+.5)*rh;
  dendroB.forEach(b => bracket(panelB, 'dendrogram-b-branch', b, dx, dy, 1.6));
})();

/* ---------- Volcano plots ---------- */
function band(parent, name, xs, tops, bottoms, xf, yf, color){
  const pts = [];
  xs.forEach((x,i) => pts.push(xf(x).toFixed(1)+','+yf(tops[i]).toFixed(1)));
  for (let i = xs.length-1; i >= 0; i--) pts.push(xf(xs[i]).toFixed(1)+','+yf(bottoms[i]).toFixed(1));
  const p = make('polygon', parent, {points:pts.join(' '), fill:color, stroke:color, 'stroke-width':2, 'stroke-linejoin':'round'});
  
  
}
function scatter(parent, name, data, xf, yf, color, r){
  data.forEach(d => {
    const c = make('circle', parent, {cx:xf(d[0]).toFixed(1), cy:yf(d[1]).toFixed(1), r:r, fill:color});
    
    
  });
}
function frame(parent, name, box, xf, yf, xTicks, yTicks, dashOffset, labelRight, xShift){
  const zero = make('line', parent, {x1:box.x, x2:box.x+box.w, y1:yf(0), y2:yf(0), stroke:'#000', 'stroke-width':6, 'stroke-dasharray':'30 20', 'stroke-dashoffset':dashOffset});
  
  
  const stub = make('line', parent, {x1:box.x, x2:xf(0), y1:yf(0), y2:yf(0), stroke:'#000', 'stroke-width':6});
  
  
  const rect = make('rect', parent, {x:box.x, y:box.y, width:box.w, height:box.h, fill:'none', stroke:'#111', 'stroke-width':2.5});
  
  
  xTicks.forEach(label => {
    const px = xf(parseFloat(label));
    const l = make('line', parent, {x1:px, x2:px, y1:box.y+box.h, y2:box.y+box.h+22, stroke:'#111', 'stroke-width':2});
    
    
    const t = make('text', parent, {x:px+xShift, y:1805, 'text-anchor':'middle', class:'tick'});
    t.textContent = label;
    
    
  });
  yTicks.forEach(v => {
    const py = yf(v);
    const l = make('line', parent, {x1:box.x-22, x2:box.x, y1:py, y2:py, stroke:'#111', 'stroke-width':2});
    
    
    const t = make('text', parent, {x:labelRight, y:py+10, 'text-anchor':'end', class:'tick'});
    t.textContent = v < 0 ? '–' + Math.abs(v) : String(v);
    
    
  });
}

(function(){
  const xf = v => 283.8+190.3*v, yf = v => 1451-53.25*v;
  const g = make('g', panelC, {'clip-path':'url(#clipC)'});
  
  
  band(g, 'volcano-c-dense-upper', cUpperX, cUpperTop, cUpperBottom, xf, yf, '#050505');
  band(g, 'volcano-c-dense-lower', cLowerX, cLowerTop, cLowerBottom, xf, yf, '#050505');
  scatter(g, 'volcano-c-point-ns', cBlackPoints, xf, yf, '#050505', 5.8);
  band(g, 'volcano-c-dense-up', cRedCoreX, cRedCoreTop, cRedCoreBottom, xf, yf, '#ed2024');
  scatter(g, 'volcano-c-point-up', cRedPoints, xf, yf, '#ed2024', 5.8);
  band(g, 'volcano-c-dense-down', cGreenCoreX, cGreenCoreTop, cGreenCoreBottom, xf, yf, '#6abd45');
  scatter(g, 'volcano-c-point-down', cGreenPoints, xf, yf, '#6abd45', 5.8);
  frame(panelC, 'volcano-c', {x:257.4,y:1151,w:724,h:599.5}, xf, yf, xTicksC, yTicksC, 3, 230, -3);
})();

(function(){
  const xf = v => 1289+139.8*v, yf = v => 1451-87.1*v;
  const g = make('g', panelD, {'clip-path':'url(#clipD)'});
  
  
  band(g, 'volcano-d-dense-upper', dCoreX, dUpperTop, dUpperBottom, xf, yf, '#050505');
  band(g, 'volcano-d-dense-lower', dCoreX, dLowerTop, dLowerBottom, xf, yf, '#050505');
  scatter(g, 'volcano-d-point-ns', dBlackPoints, xf, yf, '#050505', 5.4);
  scatter(g, 'volcano-d-point-up', dRedPoints, xf, yf, '#ed2024', 5.2);
  scatter(g, 'volcano-d-point-down', dGreenPoints, xf, yf, '#55b84a', 5.2);
  frame(panelD, 'volcano-d', {x:1262.7,y:1149,w:729,h:603.5}, xf, yf, xTicksD, yTicksD, 2.7, 1234, 0);
})();
</script>
</body>
</html>
